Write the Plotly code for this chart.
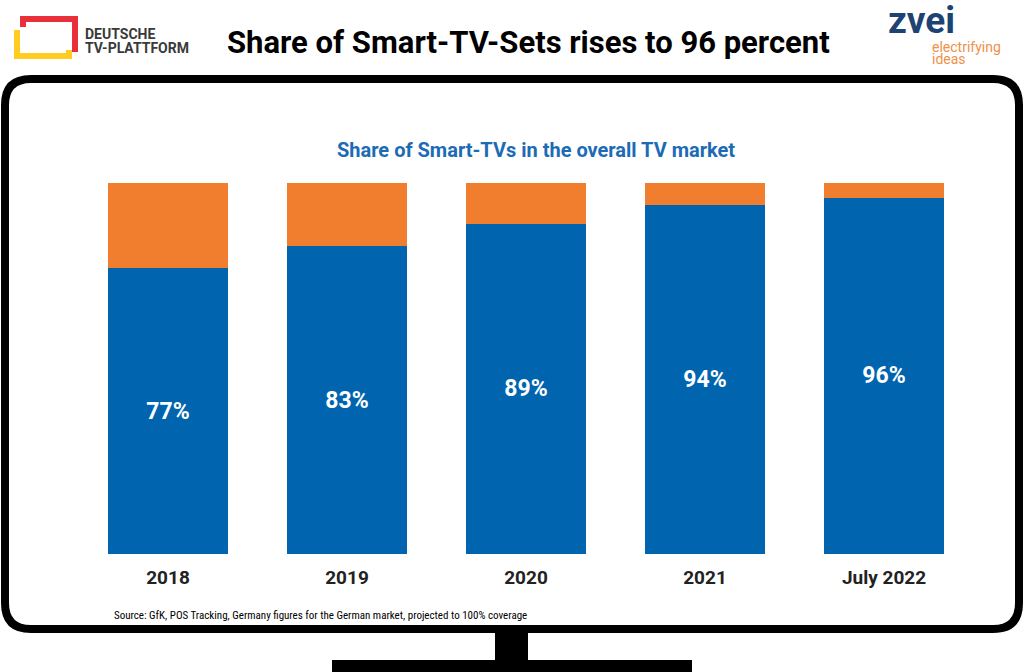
import plotly.graph_objects as go

categories = ["2018", "2019", "2020", "2021", "July 2022"]
smart_share = [77, 83, 89, 94, 96]
other_share = [23, 17, 11, 6, 4]

W, H = 1024, 672

def X(px):
    return px / W

def Y(py):
    return 1 - py / H

BLUE = "#0064AF"
ORANGE = "#F07E2E"
FONT = "Roboto, 'DejaVu Sans', sans-serif"
NARROW = "'Liberation Sans Narrow', 'Roboto Condensed', 'DejaVu Sans Condensed', Roboto, sans-serif"

fig = go.Figure()
fig.add_trace(go.Bar(
    x=categories, y=smart_share, marker=dict(color=BLUE, line=dict(width=0)),
    texttemplate="%{y}%", textposition="inside", insidetextanchor="middle",
    textfont=dict(color="white", size=23, family=FONT, weight=700),
    hoverinfo="skip", name="Smart-TV",
))
fig.add_trace(go.Bar(
    x=categories, y=other_share, marker=dict(color=ORANGE, line=dict(width=0)),
    hoverinfo="skip", name="Other",
))

def rounded_rect(x0, y0, x1, y1, r):
    pts = [
        f"M {X(x0 + r)},{Y(y0)}",
        f"L {X(x1 - r)},{Y(y0)}",
        f"Q {X(x1)},{Y(y0)} {X(x1)},{Y(y0 + r)}",
        f"L {X(x1)},{Y(y1 - r)}",
        f"Q {X(x1)},{Y(y1)} {X(x1 - r)},{Y(y1)}",
        f"L {X(x0 + r)},{Y(y1)}",
        f"Q {X(x0)},{Y(y1)} {X(x0)},{Y(y1 - r)}",
        f"L {X(x0)},{Y(y0 + r)}",
        f"Q {X(x0)},{Y(y0)} {X(x0 + r)},{Y(y0)} Z",
    ]
    return " ".join(pts)

def path_px(points):
    s = f"M {X(points[0][0])},{Y(points[0][1])}"
    for p in points[1:]:
        s += f" L {X(p[0])},{Y(p[1])}"
    return s

shapes = []
# TV frame
shapes.append(dict(type="path", xref="paper", yref="paper",
                   path=rounded_rect(5, 79, 1019, 629, 26),
                   line=dict(color="black", width=8), fillcolor="rgba(0,0,0,0)"))
# stand neck
shapes.append(dict(type="rect", xref="paper", yref="paper",
                   x0=X(495), x1=X(528), y0=Y(662), y1=Y(630),
                   line=dict(width=0), fillcolor="black"))
# stand base
shapes.append(dict(type="rect", xref="paper", yref="paper",
                   x0=X(332), x1=X(692), y0=Y(690), y1=Y(660),
                   line=dict(width=0), fillcolor="black"))
# DTVP logo: yellow and red open frames
shapes.append(dict(type="path", xref="paper", yref="paper",
                   path=path_px([(17, 30), (17, 56), (69, 56), (69, 50)]),
                   line=dict(color="#FFCC1F", width=6)))
shapes.append(dict(type="path", xref="paper", yref="paper",
                   path=path_px([(23, 27), (23, 19), (75, 19), (75, 52)]),
                   line=dict(color="#E8303A", width=6)))

annotations = [
    dict(text="<b>Share of Smart-TV-Sets rises to 96 percent</b>", x=X(528), y=Y(42),
         font=dict(size=31, color="black", family=FONT)),
    dict(text="<b>Share of Smart-TVs in the overall TV market</b>", x=X(536), y=Y(150),
         font=dict(size=20, color="#1C6BB5", family=FONT)),
    dict(text="Source: GfK, POS Tracking, Germany figures for the German market, projected to 100% coverage",
         x=X(112), y=Y(615), xanchor="left",
         font=dict(size=11, color="black", family=NARROW)),
    dict(text="<b>DEUTSCHE</b>", x=X(83), y=Y(34), xanchor="left",
         font=dict(size=14, color="#3A3A3A", family=FONT)),
    dict(text="<b>TV-PLATTFORM</b>", x=X(83), y=Y(48), xanchor="left",
         font=dict(size=14, color="#3A3A3A", family=FONT)),
    dict(text="<b>zvei</b>", x=X(921), y=Y(20),
         font=dict(size=37, color="#1D4373", family=FONT)),
    dict(text="electrifying", x=X(930), y=Y(46.5), xanchor="left",
         font=dict(size=14, color="#F0904A", family=FONT)),
    dict(text="ideas", x=X(930), y=Y(59.5), xanchor="left",
         font=dict(size=14, color="#F0904A", family=FONT)),
]
for a in annotations:
    a.update(xref="paper", yref="paper", showarrow=False)
    a.setdefault("xanchor", "center")
    a.setdefault("yanchor", "middle")

fig.update_layout(
    width=W, height=H, autosize=False,
    margin=dict(l=0, r=0, t=0, b=0),
    paper_bgcolor="white", plot_bgcolor="white",
    barmode="stack", bargap=0.33, showlegend=False,
    shapes=shapes, annotations=annotations,
    xaxis=dict(domain=[X(78.5), X(973.5)], showgrid=False, zeroline=False,
               showline=False, ticks="", ticklabelstandoff=10,
               tickfont=dict(size=19, color="#222222", family=FONT, weight=700),
               fixedrange=True),
    yaxis=dict(domain=[Y(554), Y(183)], range=[0, 100], visible=False,
               fixedrange=True),
)

fig.write_html("out.html", config={"displayModeBar": False},
               post_script="document.body.style.margin='0';document.body.style.overflow='hidden';")
